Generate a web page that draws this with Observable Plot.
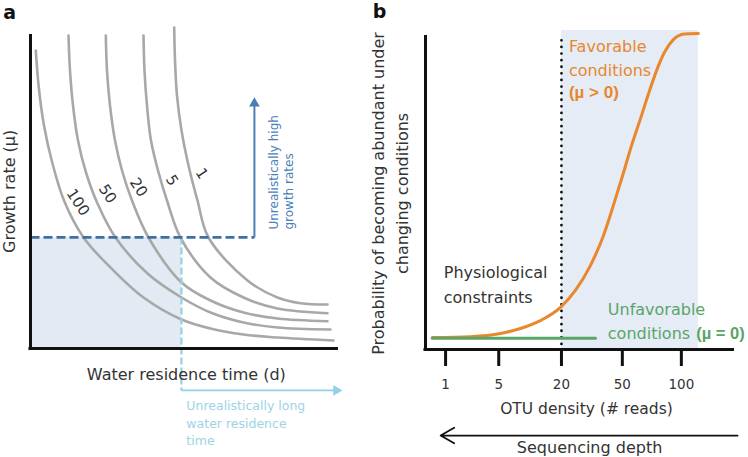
<!DOCTYPE html>
<html><head><meta charset="utf-8">
<script src="https://cdn.jsdelivr.net/npm/d3@7"></script>
<script src="https://cdn.jsdelivr.net/npm/@observablehq/plot@0.6"></script>
<style>
html,body{margin:0;padding:0;background:#fff;}
#wrap{display:flex;width:748px;height:457px;overflow:hidden;}
#wrap svg{overflow:visible;}
</style></head><body><div id="wrap"></div>
<script>
// ---------- Panel a data: growth rate vs water residence time (arbitrary units 0-100) ----------
const curveLabels = ["1", "5", "20", "50", "100"];
const curve1 = [[46.66,102.56],[46.92,92.01],[47.56,80.83],[49.03,69.65],[51.30,58.47],[54.22,47.28],[57.79,35.46],[70.45,21.73],[80.19,16.29],[87.66,14.47],[96.43,14.06]];
const curve5 = [[36.69,100.0],[37.01,88.82],[37.82,77.64],[39.12,66.45],[41.40,56.87],[44.32,47.28],[48.70,35.46],[58.44,22.68],[69.16,16.29],[80.19,12.78],[96.43,11.28]];
const curve20 = [[24.45,100],[24.84,88.82],[25.81,77.64],[27.44,66.45],[29.71,56.87],[32.95,47.28],[38.31,35.46],[49.03,21.09],[58.44,15.34],[69.16,11.50],[80.19,9.58],[96.43,8.72]];
const curve50 = [[12.34,100],[12.82,88.82],[13.80,77.64],[15.42,66.45],[18.02,56.23],[21.75,46.33],[27.60,35.46],[37.99,23.96],[49.03,16.29],[58.44,11.50],[69.16,8.31],[80.19,6.71],[97.40,6.07]];
const curve100 = [[1.72,95.21],[2.69,83.39],[4.38,71.25],[7.05,59.42],[10.88,47.28],[17.21,35.46],[25.97,25.88],[36.69,16.29],[49.03,9.27],[58.44,6.39],[69.16,4.47],[80.19,3.51],[98.38,2.56]];
const limitTime = 49.0;   // realistic residence-time limit
const limitRate = 35.5;   // realistic growth-rate limit

// ---------- Panel b data ----------
const otuTickLabels = ["1", "5", "20", "50", "100"];
const otuTickPos = [6.5, 23.7, 44.0, 63.7, 82.8];
const favorable = [[2.2,3.8],[14.6,4.1],[24.3,5.1],[30.7,6.7],[37.2,9.2],[43.7,13.4],[48.5,18.8],[53.4,26.8],[57.6,36.3],[60.8,45.9],[63.8,55.4],[66.7,65.0],[69.6,73.6],[72.2,81.5],[74.8,88.9],[77.3,94.6],[80.2,98.7],[83.8,100.5],[88.3,100.6]];
const unfavorable = [[2.2,3.6],[55.0,3.6]];
const constraintThreshold = 44.0;
const favorableEnd = 88.3;

const FONT = "'DejaVu Sans', sans-serif";
const NARROW = "'Liberation Sans', Arial, sans-serif";
const TXT = "#333";

// ---------- Build panel a ----------
const curveSets = [curve1, curve5, curve20, curve50, curve100];
const curveTable = curveSets.flatMap((pts, i) => pts.map(([x, y]) => ({label: curveLabels[i], x, y})));
const curveLabelAnchors = [[55.6,55.9],[45.9,53.7],[35.1,51.5],[25.0,49.4],[15.4,46.7]];
const curveLabelTable = curveLabels.map((label, i) => ({label, x: curveLabelAnchors[i][0], y: curveLabelAnchors[i][1]}));

const darkBlue = "#3e70a3";
const lightBlue = "#93d0e4";

const panelA = Plot.plot({
  width: 374, height: 457,
  marginLeft: 30, marginRight: 36, marginTop: 35, marginBottom: 109,
  x: {domain: [0, 100], axis: null},
  y: {domain: [0, 100], axis: null},
  style: {fontFamily: FONT, background: "white", overflow: "visible"},
  marks: [
    Plot.rect([{x1: 0, x2: limitTime, y1: 0, y2: limitRate}], {x1: "x1", x2: "x2", y1: "y1", y2: "y2", fill: "#e3eaf3"}),
    Plot.line(curveTable, {x: "x", y: "y", z: "label", stroke: "#a8a8a8", strokeWidth: 2.6, curve: "catmull-rom"}),
    // light blue: unrealistically long residence time
    Plot.link([{x: limitTime, y1: limitRate, y2: -13.4}], {x1: "x", x2: "x", y1: "y1", y2: "y2", stroke: lightBlue, strokeWidth: 2.2, strokeDasharray: "7,3"}),
    Plot.link([{x1: limitTime, x2: 99.3, y: -13.4}], {x1: "x1", x2: "x2", y1: "y", y2: "y", stroke: lightBlue, strokeWidth: 1.8}),
    Plot.dot([{x: 99.3, y: -13.4}], {x: "x", y: "y", symbol: "triangle", r: 4, fill: lightBlue, stroke: "none", rotate: 90}),
    // dark blue: unrealistically high growth rates
    Plot.link([{x1: 0, x2: 72.7, y: limitRate}], {x1: "x1", x2: "x2", y1: "y", y2: "y", stroke: darkBlue, strokeWidth: 2.8, strokeDasharray: "9,4"}),
    Plot.link([{x: 72.7, y1: limitRate, y2: 78.3}], {x1: "x", x2: "x", y1: "y1", y2: "y2", stroke: "#4a7fb6", strokeWidth: 2}),
    Plot.dot([{x: 72.7, y: 78.3}], {x: "x", y: "y", symbol: "triangle", r: 4, fill: "#4a7fb6", stroke: "none"}),
    // axes
    Plot.ruleX([0], {y1: -0.5, y2: 100.3, stroke: "#111", strokeWidth: 3}),
    Plot.ruleY([0], {x1: -0.5, x2: 100, stroke: "#111", strokeWidth: 3}),
    // curve labels
    Plot.text(curveLabelTable, {x: "x", y: "y", text: "label", rotate: 57, fontSize: 15, fill: TXT}),
    // annotations
    Plot.text(["Unrealistically high\ngrowth rates"], {x: 81.3, y: 38.0, rotate: -90, textAnchor: "start", lineAnchor: "middle", lineHeight: 1.25, fontSize: 12, fill: "#4a80b8"}),
    Plot.text(["Unrealistically long\nwater residence\ntime"], {x: 50.6, y: -23.5, textAnchor: "start", lineAnchor: "middle", lineHeight: 1.4, fontSize: 12.5, fill: "#9dd3e6"}),
    Plot.text(["Water residence time (d)"], {x: 50.6, y: -8.3, fontSize: 16, fill: TXT}),
    Plot.text(["Growth rate (µ)"], {x: -6.8, y: 50.2, rotate: -90, fontSize: 16, fill: TXT}),
    Plot.text(["a"], {x: -6.8, y: 107.3, fontSize: 19, fontWeight: "bold", fill: "#111"})
  ]
});

// ---------- Build panel b ----------
const toRows = pts => pts.map(([x, y]) => ({x, y}));
const tickLabelByPos = new Map(otuTickPos.map((p, i) => [p, otuTickLabels[i]]));
const orange = "#e8872c";
const green = "#5aa46a";

const panelB = Plot.plot({
  width: 374, height: 457,
  marginLeft: 51, marginRight: 14, marginTop: 35, marginBottom: 108,
  x: {domain: [0, 100], axis: null},
  y: {domain: [0, 100], axis: null},
  style: {fontFamily: FONT, background: "white", overflow: "visible"},
  marks: [
    Plot.rect([{x1: constraintThreshold, x2: favorableEnd, y1: 0, y2: 101.6}], {x1: "x1", x2: "x2", y1: "y1", y2: "y2", fill: "#e5ecf5"}),
    Plot.ruleX([constraintThreshold], {y1: -0.5, y2: 99, stroke: "#111", strokeWidth: 2.8, strokeDasharray: "0,6.6", strokeLinecap: "round"}),
    Plot.line(toRows(favorable), {x: "x", y: "y", stroke: orange, strokeWidth: 3, curve: "monotone-x"}),
    Plot.line(toRows(unfavorable), {x: "x", y: "y", stroke: green, strokeWidth: 3}),
    Plot.ruleX([0], {y1: -0.3, y2: 100, stroke: "#111", strokeWidth: 3}),
    Plot.ruleY([0], {x1: -0.5, x2: 100, stroke: "#111", strokeWidth: 3}),
    Plot.axisX(otuTickPos, {tickFormat: d => tickLabelByPos.get(d), tickSize: 17, tickPadding: 13, strokeWidth: 3, stroke: "#111", fontSize: 13.5, fill: TXT}),
    Plot.text(["Favorable\nconditions"], {x: 46.4, y: 93.3, textAnchor: "start", lineAnchor: "middle", lineHeight: 1.5, fontSize: 16, fill: orange}),
    Plot.text(["(µ > 0)"], {x: 46.4, y: 81.9, textAnchor: "start", fontSize: 17, fontWeight: "bold", fontFamily: NARROW, fill: orange}),
    Plot.text(["Physiological\nconstraints"], {x: 5.9, y: 21.2, textAnchor: "start", lineAnchor: "middle", lineHeight: 1.55, fontSize: 16, fill: TXT}),
    Plot.text(["Unfavorable"], {x: 59.0, y: 12.6, textAnchor: "start", fontSize: 16, fill: green}),
    Plot.text(["conditions"], {x: 59.0, y: 5.0, textAnchor: "start", fontSize: 16, fill: green}),
    Plot.text(["(µ = 0)"], {x: 87.6, y: 5.0, textAnchor: "start", fontSize: 16.5, fontWeight: "bold", fontFamily: NARROW, fill: green}),
    Plot.text(["OTU density (# reads)"], {x: 52.1, y: -18.8, fontSize: 15.5, fill: TXT}),
    Plot.arrow([{x1: 101.0, x2: 4.9, y: -27.4}], {x1: "x1", x2: "x2", y1: "y", y2: "y", stroke: "#111", strokeWidth: 1.8, headLength: 13, headAngle: 60}),
    Plot.text(["Sequencing depth"], {x: 53.1, y: -31.2, fontSize: 16, fill: TXT}),
    Plot.text(["Probability of becoming abundant under\nchanging conditions"], {x: -12.0, y: 49.7, rotate: -90, lineAnchor: "middle", lineHeight: 1.5, fontSize: 16, fill: TXT}),
    Plot.text(["b"], {x: -14.9, y: 107.6, fontSize: 19, fontWeight: "bold", fill: "#111"})
  ]
});

const wrap = document.getElementById("wrap");
wrap.appendChild(panelA);
wrap.appendChild(panelB);
</script></body></html>
